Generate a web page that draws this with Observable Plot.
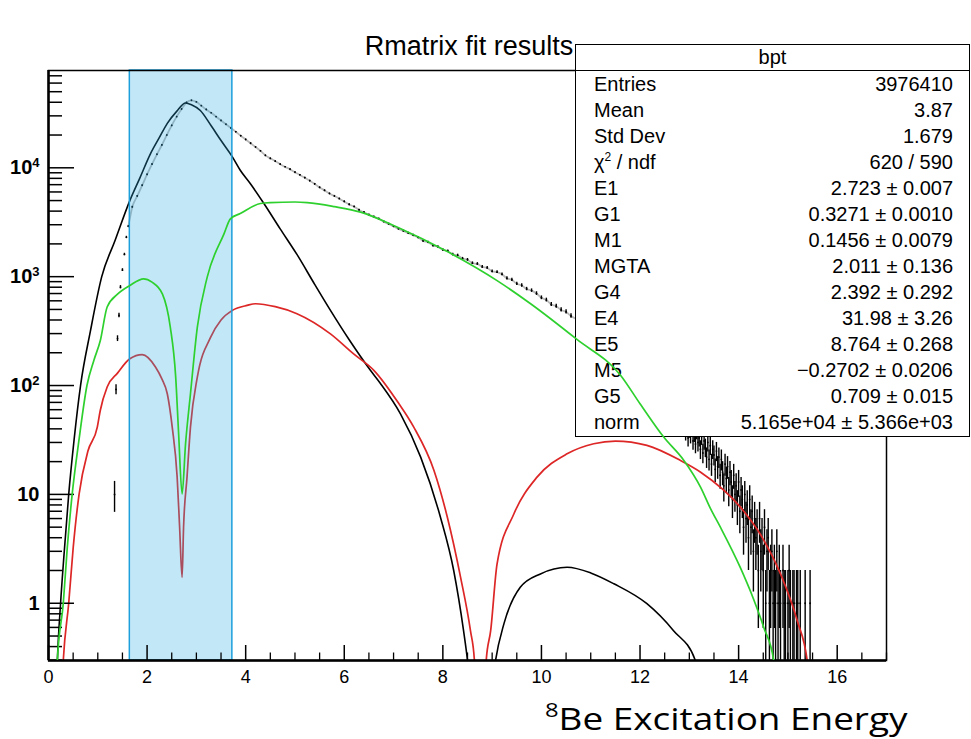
<!DOCTYPE html>
<html>
<head>
<meta charset="utf-8">
<script src="https://cdn.jsdelivr.net/npm/d3@7"></script>
<script src="https://cdn.jsdelivr.net/npm/@observablehq/plot@0.6"></script>
<style>
  body { margin: 0; background: #fff; }
  #wrap { position: relative; width: 971px; height: 739px; font-family: "Liberation Sans", Arial, Helvetica, sans-serif; color: #000; }
  #wrap svg { position: absolute; left: 0; top: 0; }
  #title { position: absolute; left: 0; width: 938px; top: 31px; line-height: 30px; text-align: center; font-size: 27px; }
  #xlabel { position: absolute; left: 545px; top: 696px; font-family: "Open Sans", sans-serif; font-size: 31px; line-height: 44px;
            white-space: nowrap; transform: scaleX(1.19); transform-origin: 0 0; }
  #xlabel sup { font-size: 20px; vertical-align: 0; position: relative; top: -13px; }
  #stats { position: absolute; left: 575px; top: 44px; width: 395px; height: 393px; box-sizing: border-box;
           border: 1.5px solid #000; background: #fff; font-size: 20px; }
  #stats .head { height: 25px; line-height: 25px; text-align: center; border-bottom: 1.5px solid #000; }
  #stats .row { height: 26px; line-height: 26px; display: flex; justify-content: space-between; padding: 0 16px 0 18px; white-space: nowrap; }
  #stats sup { font-size: 12px; vertical-align: 0; position: relative; top: -8px; }
  #overlay { pointer-events: none; }
</style>
</head>
<body>
<div id="wrap">
  <div id="title">Rmatrix fit results</div>
  <div id="xlabel"><sup>8</sup>Be Excitation Energy</div>
</div>
<script>
// ---- measured spectrum: bin centre (MeV) and counts ----
const dataE = [1.34, 1.37, 1.40, 1.43, 1.46, 1.50, 1.54, 1.58, 1.62,
  1.7, 1.8, 1.9, 2.0, 2.1, 2.2, 2.3, 2.4, 2.5, 2.6, 2.7, 2.8, 2.9,
  3.0, 3.1, 3.2, 3.3, 3.4, 3.5, 3.6, 3.7, 3.8, 3.9,
  4.0, 4.1, 4.2, 4.3, 4.4, 4.5, 4.6, 4.7, 4.8, 4.9,
  5.0, 5.1, 5.2, 5.3, 5.4, 5.5, 5.6, 5.7, 5.8, 5.9,
  6.0, 6.1, 6.2, 6.3, 6.4, 6.5, 6.6, 6.7, 6.8, 6.9,
  7.0, 7.1, 7.2, 7.3, 7.4, 7.5, 7.6, 7.7, 7.8, 7.9,
  8.0, 8.1, 8.2, 8.3, 8.4, 8.5, 8.6, 8.7, 8.8, 8.9,
  9.0, 9.1, 9.2, 9.3, 9.4, 9.5, 9.6, 9.7, 9.8, 9.9,
  10.0, 10.1, 10.2, 10.3, 10.4, 10.5, 10.6, 10.7,
  11.0, 11.5, 12.0, 12.5,
  12.900, 12.925, 12.950, 12.975, 13.000, 13.025, 13.050, 13.075, 13.100, 13.125,
  13.150, 13.175, 13.200, 13.225, 13.250, 13.275, 13.300, 13.325, 13.350, 13.375,
  13.400, 13.425, 13.450, 13.475, 13.500, 13.525, 13.550, 13.575, 13.600, 13.625,
  13.650, 13.675, 13.700, 13.725, 13.750, 13.775, 13.800, 13.825, 13.850, 13.875,
  13.900, 13.925, 13.950, 13.975, 14.000, 14.025, 14.050, 14.075, 14.100, 14.125,
  14.150, 14.175, 14.200, 14.225, 14.250, 14.275, 14.300, 14.325, 14.350, 14.375,
  14.400, 14.425, 14.450, 14.475, 14.500, 14.525, 14.550, 14.575, 14.600, 14.625,
  14.650, 14.675, 14.700, 14.725, 14.750, 14.775, 14.800, 14.825, 14.850, 14.900,
  14.925, 14.950, 15.000, 15.025, 15.050, 15.100, 15.125, 15.175, 15.200, 15.250,
  15.350, 15.450];
const dataCounts = [10, 92, 270, 440, 800, 1150, 1600, 2300, 2900,
  4370, 5500, 6900, 8700, 10800, 13300, 16200, 20000, 24500, 29500, 34700, 39800, 41700,
  40300, 37200, 34300, 32000, 29500, 27200, 25100, 23200, 21400, 19700,
  18200, 16800, 15500, 14300, 13000, 12200, 11500, 10800, 10200, 9700,
  9100, 8600, 8100, 7600, 7100, 6600, 6200, 5800, 5500, 5200,
  4900, 4600, 4400, 4100, 3900, 3700, 3550, 3400, 3200, 3050,
  2900, 2750, 2630, 2510, 2400, 2290, 2130, 2070, 1930, 1880,
  1760, 1720, 1600, 1570, 1465, 1430, 1330, 1310, 1230, 1205,
  1120, 1100, 1050, 965, 935, 860, 830, 770, 745, 700,
  640, 610, 555, 535, 495, 475, 435, 410,
  340, 240, 155, 90,
  44, 37, 41, 33, 39, 35, 42, 31, 36, 29,
  38, 30, 33, 26, 34, 24, 31, 27, 22, 30,
  21, 28, 19, 26, 23, 17, 25, 18, 22, 15,
  21, 16, 12, 19, 14, 18, 11, 16, 13, 9,
  15, 10, 12, 8, 13, 7, 11, 9, 5, 10,
  6, 8, 4, 9, 5, 7, 3, 6, 4, 5,
  2, 6, 3, 4, 2, 5, 1, 3, 4, 1,
  2, 3, 1, 2, 1, 3, 1, 2, 1, 2,
  1, 1, 1, 2, 1, 1, 1, 1, 1, 1,
  1, 1];

// ---- R-matrix fit components ----
const blackE = [0.15, 0.18, 0.245, 0.32, 0.41, 0.52, 0.65, 0.85, 1.08, 1.35, 1.65, 1.85, 2.07, 2.25, 2.41, 2.6, 2.78,
  2.9, 3.08, 3.3, 3.5, 3.73, 3.89, 4.1, 4.37, 4.7, 5.04, 5.4, 5.72, 6.1, 6.53, 6.73, 7.14, 7.55, 7.95, 8.22, 8.42, 8.50,
  8.76, 9.07, 9.24, 9.57, 9.98, 10.52, 11.0, 11.47, 12.14, 12.68, 13.12, 13.3];
const blackY = [0.12, 0.3, 1, 3, 10, 32, 100, 316, 1000, 2150, 5000, 8000, 13500, 19000, 25600, 33000, 39400,
  38000, 33600, 24300, 17800, 12600, 9500, 7100, 4700, 2750, 1600, 850, 490, 263, 138, 105, 55, 22, 6.2, 2.0, 0.56, 0.3,
  0.01, 0.3, 0.65, 1.40, 1.86, 2.14, 1.9, 1.51, 0.99, 0.56, 0.3, 0.12];

const redE = [0.25, 0.30, 0.41, 0.5, 0.62, 0.8, 0.99, 1.05, 1.19, 1.4, 1.65, 1.9, 2.17, 2.3, 2.41, 2.51, 2.61, 2.66,
  2.71, 2.74, 2.81, 2.88, 3.02, 3.29, 3.5, 3.73, 4.03, 4.2, 4.6, 5.04, 5.72, 6.19, 6.6, 7.1, 7.41, 7.82, 8.09, 8.36,
  8.56, 8.64, 8.76, 8.88, 8.97, 9.10, 9.44, 9.91, 10.52, 11.06, 11.5, 12.14, 12.82, 13.23, 14.04, 14.44, 14.85, 15.19,
  15.39, 15.5];
const redY = [0.1, 0.3, 1, 3.2, 10, 25, 41.5, 59, 97, 130, 176, 192, 148, 115, 84, 41.5, 14.4, 5.0,
  1.73, 5.0, 14.4, 41.5, 120, 278, 400, 490, 545, 564, 530, 457, 298, 195, 138, 69, 41.5, 16.6, 6.2, 1.73,
  0.56, 0.3, 0.01, 0.3, 0.56, 2.3, 6.6, 14.4, 23.6, 29.2, 30.9, 28.2, 20.5, 16, 7.6, 4.3, 1.86, 0.69,
  0.3, 0.1];

const greenE = [0.15, 0.18, 0.30, 0.38, 0.48, 0.62, 0.78, 0.92, 1.05, 1.19, 1.4, 1.65, 1.93, 2.1, 2.31, 2.47, 2.58,
  2.64, 2.71, 2.78, 2.88, 3.02, 3.22, 3.56, 3.69, 3.89, 4.30, 4.5, 5.0, 5.25, 5.8, 6.33, 7.07, 8.09, 9.10, 9.78,
  10.72, 11.6, 12.0, 12.48, 12.89, 13.23, 13.43, 13.63, 14.04, 14.3, 14.51, 14.71, 14.8];
const greenY = [0.1, 0.3, 1, 3.2, 10, 32, 100, 170, 258, 526, 690, 830, 955, 890, 695, 346, 120,
  36, 10.1, 29, 84, 345, 990, 2470, 3400, 3800, 4700, 4790, 4850, 4790, 4400, 3920, 2860, 1700, 920, 564,
  265, 125, 68, 33.6, 20.5, 11.6, 7.4, 5.0, 2.1, 1.1, 0.6, 0.3, 0.12];

// highlighted energy window
const windowE = [1.65, 3.73];

// axis ticks
const xMajor = [0, 2, 4, 6, 8, 10, 12, 14, 16];
const xTickLabels = ["0", "2", "4", "6", "8", "10", "12", "14", "16"];
const yMajor = [1, 10, 100, 1000, 10000];
const yTickLabels = ["1", "10", "10^2", "10^3", "10^4"];

// statistics box entries
const statNames = ["Entries", "Mean", "Std Dev", "χ<sup>2</sup> / ndf", "E1", "G1", "M1", "MGTA", "G4", "E4", "E5", "M5", "G5", "norm"];
const statValues = ["3976410", "3.87", "1.679", "620 / 590", "2.723 ± 0.007", "0.3271 ± 0.0010", "0.1456 ± 0.0079",
  "2.011 ± 0.136", "2.392 ± 0.292", "31.98 ± 3.26", "8.764 ± 0.268", "−0.2702 ± 0.0206", "0.709 ± 0.015",
  "5.165e+04 ± 5.366e+03"];

// ---- build tables ----
const rows = (xs, ys) => xs.map((x, i) => ({e: x, v: ys[i]}));
const dataRows = dataE.map((e, i) => {
  const n = dataCounts[i], s = Math.sqrt(n);
  return {e, n, lo: Math.max(n - s, 1e-3), hi: n + s};
});
const blackRows = rows(blackE, blackY);
const redRows = rows(redE, redY);
const greenRows = rows(greenE, greenY);

const xMinor = d3.range(0, 17.001, 0.5).filter(v => !xMajor.includes(v));
const yMinor = [];
for (let dec = 0.1; dec <= 10000; dec *= 10) {
  for (let m = 2; m <= 9; m++) {
    const v = +(m * dec).toPrecision(3);
    if (v >= 0.3 && v <= 78000) yMinor.push(v);
  }
}

const W = 971, H = 739;
const frame = {width: W, height: H, marginLeft: 48, marginRight: 85, marginTop: 70, marginBottom: 79};
const xScale = {domain: [0, 17]};
const yScale = {type: "log", domain: [0.298, 78300]};
const font = {fontFamily: "Liberation Sans, Arial, Helvetica, sans-serif", background: "transparent", overflow: "visible"};

const main = Plot.plot({
  ...frame,
  x: xScale,
  y: yScale,
  style: font,
  marks: [
    // data: fit-through line, error bars and markers
    Plot.line(dataRows.filter(d => d.e <= 12.6 && d.e >= 1.62), {x: "e", y: "n", stroke: "#b8b8b8", strokeWidth: 1.8, curve: "monotone-x", clip: true}),
    Plot.ruleX(dataRows, {x: "e", y1: "lo", y2: "hi", stroke: "#000", strokeWidth: 1.4, clip: true}),
    Plot.dot(dataRows, {x: "e", y: "n", r: 0.9, fill: "#000", stroke: null, clip: true}),
    // fit components
    Plot.line(blackRows, {x: "e", y: "v", stroke: "#000", strokeWidth: 1.6, curve: "monotone-x", clip: true}),
    Plot.line(redRows, {x: "e", y: "v", stroke: "#dd2626", strokeWidth: 1.7, curve: "monotone-x", clip: true}),
    // highlighted window
    Plot.rect([windowE], {x1: d => d[0], x2: d => d[1], fill: "rgb(45,176,230)", fillOpacity: 0.29, stroke: "#1c9fda", strokeWidth: 1.5}),
    // axes
    Plot.axisX({ticks: xMinor, tickSize: -7.5, strokeWidth: 1.3, tickFormat: () => "", label: null}),
    Plot.axisX({ticks: xMajor, tickSize: -15, strokeWidth: 1.5, tickFormat: () => "", label: null}),
    Plot.axisX({ticks: xMajor, tickSize: 0, tickPadding: 10, tickFormat: d => xTickLabels[xMajor.indexOf(d)], fontSize: 18, label: null}),
    Plot.axisY({ticks: yMinor, tickSize: -14, strokeWidth: 1.5, tickFormat: () => "", label: null}),
    Plot.axisY({ticks: yMajor, tickSize: -26, strokeWidth: 1.5, tickFormat: () => "", label: null}),
    Plot.axisY({ticks: yMajor, tickSize: 0, tickPadding: 9, tickFormat: d => yTickLabels[yMajor.indexOf(d)], label: null}),
    Plot.frame({stroke: "#000", strokeWidth: 1.5}),
    Plot.ruleX([0], {stroke: "#000", strokeWidth: 2.5}),
    Plot.ruleY([yScale.domain[0]], {stroke: "#000", strokeWidth: 2.5})
  ]
});

// bold decade labels with superscript exponents
d3.select(main).selectAll('g[aria-label="y-axis tick label"] text')
  .style("font-size", "20px").style("font-weight", "700")
  .each(function () {
    const m = this.textContent.match(/^10\^(\d)$/);
    if (m) {
      this.textContent = "10";
      d3.select(this).append("tspan").attr("dy", "-0.55em").style("font-size", "13px").text(m[1]);
    }
  });

const wrap = document.getElementById("wrap");
wrap.insertBefore(main, wrap.firstChild);

// statistics box
const stats = document.createElement("div");
stats.id = "stats";
stats.innerHTML = `<div class="head">bpt</div>` +
  statNames.map((n, i) => `<div class="row"><span>${n}</span><span>${statValues[i]}</span></div>`).join("");
wrap.appendChild(stats);

// green component drawn above the statistics box
const overlay = Plot.plot({
  ...frame,
  x: {...xScale, axis: null},
  y: {...yScale, axis: null},
  style: font,
  marks: [
    Plot.line(greenRows, {x: "e", y: "v", stroke: "#2ed02e", strokeWidth: 1.7, curve: "monotone-x", clip: true})
  ]
});
overlay.id = "overlay";
wrap.appendChild(overlay);
</script>
</body>
</html>
